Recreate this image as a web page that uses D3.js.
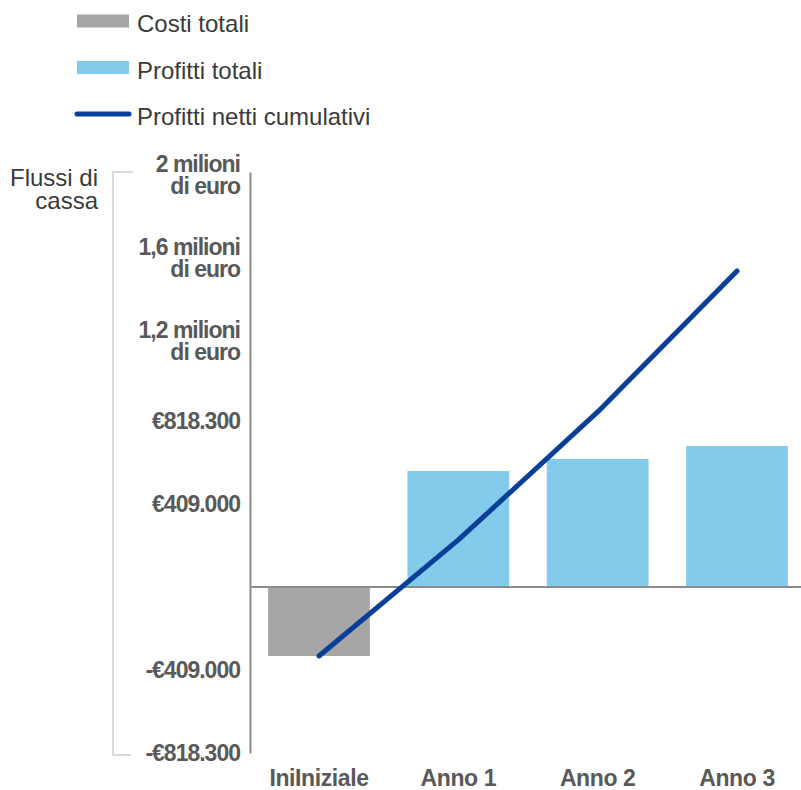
<!DOCTYPE html>
<html>
<head>
<meta charset="utf-8">
<script src="https://cdn.jsdelivr.net/npm/d3@7"></script>
<style>
body { margin: 0; background: #fff; }
svg { display: block; font-family: "Liberation Sans", Arial, sans-serif; }
</style>
</head>
<body>
<div id="d3Chart"></div>
<script>
// data
var categories = ["Iniziale", "Anno 1", "Anno 2", "Anno 3"];
var xTickLabels = ["IniIniziale", "Anno 1", "Anno 2", "Anno 3"];
var costiTotali = [-340000, 0, 0, 0];
var profittiTotali = [0, 572000, 631000, 695000];
var profittiNettiCumulativi = [-340000, 232000, 863000, 1558000];
var yTicks = [-818300, -409150, 409150, 818300, 1227450, 1636600, 2045750];
var yTickLabels = ["-€818.300", "-€409.000", "€409.000", "€818.300", "1,2 milioni|di euro", "1,6 milioni|di euro", "2 milioni|di euro"];
var legendLabels = ["Costi totali", "Profitti totali", "Profitti netti cumulativi"];

var colGray = "#a6a6a6", colBlue = "#82cbeb", colLine = "#0a3f99";

// set the dimensions and margins of the graph
var margin = {top: 172, right: 0, bottom: 37, left: 250},
width = 556,
height = 790 - margin.top - margin.bottom;

var x = d3.scaleBand()
.domain(categories)
.range([0, width])
.paddingInner(0.27)
.paddingOuter(0.13);
var y = d3.scaleLinear()
.domain([-818300, 2045750])
.range([height, 0]);

var root = d3.select("#d3Chart").append("svg")
.attr("width", 801)
.attr("height", 790);

// legend
var legend = root.append("g");
legendLabels.forEach(function(t, i) {
var ly = 21 + i * 46.5;
if (i < 2) {
legend.append("rect")
.attr("x", 77).attr("y", ly - 6.5)
.attr("width", 52).attr("height", 13)
.attr("fill", i == 0 ? colGray : colBlue);
} else {
legend.append("line")
.attr("x1", 77).attr("x2", 129)
.attr("y1", ly).attr("y2", ly)
.attr("stroke", colLine).attr("stroke-width", 5)
.attr("stroke-linecap", "round");
}
legend.append("text")
.attr("x", 137).attr("y", ly + 11)
.attr("fill", "#3a3a3a")
.style("font-size", "24px")
.text(t);
});

// y axis title with its bracket
root.append("path")
.attr("d", "M133,172H113V755H131")
.attr("fill", "none")
.attr("stroke", "#dadada")
.attr("stroke-width", 2);
root.append("text")
.attr("text-anchor", "end")
.attr("fill", "#3a3a3a")
.style("font-size", "24px")
.selectAll("tspan")
.data(["Flussi di", "cassa"])
.enter().append("tspan")
.attr("x", 98)
.attr("y", function(d, i) { return 186 + i * 23; })
.text(function(d) { return d; });

var svg = root.append("g")
.attr("transform", "translate(" + margin.left + "," + margin.top + ")");

// bars
svg.selectAll(".cost")
.data(costiTotali)
.enter().append("rect")
.attr("class", "cost")
.attr("x", function(d, i) { return x(categories[i]); })
.attr("width", x.bandwidth())
.attr("y", function(d) { return y(Math.max(0, d)); })
.attr("height", function(d) { return Math.abs(y(d) - y(0)); })
.attr("fill", colGray);

svg.selectAll(".profit")
.data(profittiTotali)
.enter().append("rect")
.attr("class", "profit")
.attr("x", function(d, i) { return x(categories[i]); })
.attr("width", x.bandwidth())
.attr("y", function(d) { return y(Math.max(0, d)); })
.attr("height", function(d) { return Math.abs(y(d) - y(0)); })
.attr("fill", colBlue);

// zero line
svg.append("line")
.attr("x1", 0).attr("x2", 801 - margin.left)
.attr("y1", y(0)).attr("y2", y(0))
.attr("stroke", "#8c8c8c").attr("stroke-width", 2);

// cumulative line
var line = d3.line()
.x(function(d, i) { return x(categories[i]) + x.bandwidth() / 2; })
.y(function(d) { return y(d); });
svg.append("path")
.datum(profittiNettiCumulativi)
.attr("d", line)
.attr("fill", "none")
.attr("stroke", colLine)
.attr("stroke-width", 5)
.attr("stroke-linecap", "round")
.attr("stroke-linejoin", "round");

// y axis
var yAxis = svg.append("g")
.call(d3.axisLeft(y).tickValues(yTicks).tickSize(0).tickPadding(10)
.tickFormat(function(d, i) { return yTickLabels[i]; }));
yAxis.select(".domain").attr("stroke", "#8c8c8c").attr("stroke-width", 2);
yAxis.selectAll("text")
.attr("fill", "#595959")
.style("font-size", "23px")
.style("font-weight", "bold")
.style("letter-spacing", "-1px")
.each(function(d, i) {
var parts = yTickLabels[i].split("|");
if (parts.length > 1) {
var t = d3.select(this).text("").attr("dy", null).attr("y", -1);
t.selectAll("tspan").data(parts).enter().append("tspan")
.attr("x", -10)
.attr("dy", function(p, j) { return j == 0 ? 0 : 22; })
.text(function(p) { return p; });
}
});

// x axis
var xAxis = svg.append("g")
.attr("transform", "translate(0," + height + ")")
.call(d3.axisBottom(x).tickSize(0).tickPadding(17)
.tickFormat(function(d, i) { return xTickLabels[i]; }));
xAxis.select(".domain").remove();
xAxis.selectAll("text")
.attr("fill", "#595959")
.style("font-size", "23px")
.style("font-weight", "bold")
.style("letter-spacing", "-0.4px");
</script>
</body>
</html>
